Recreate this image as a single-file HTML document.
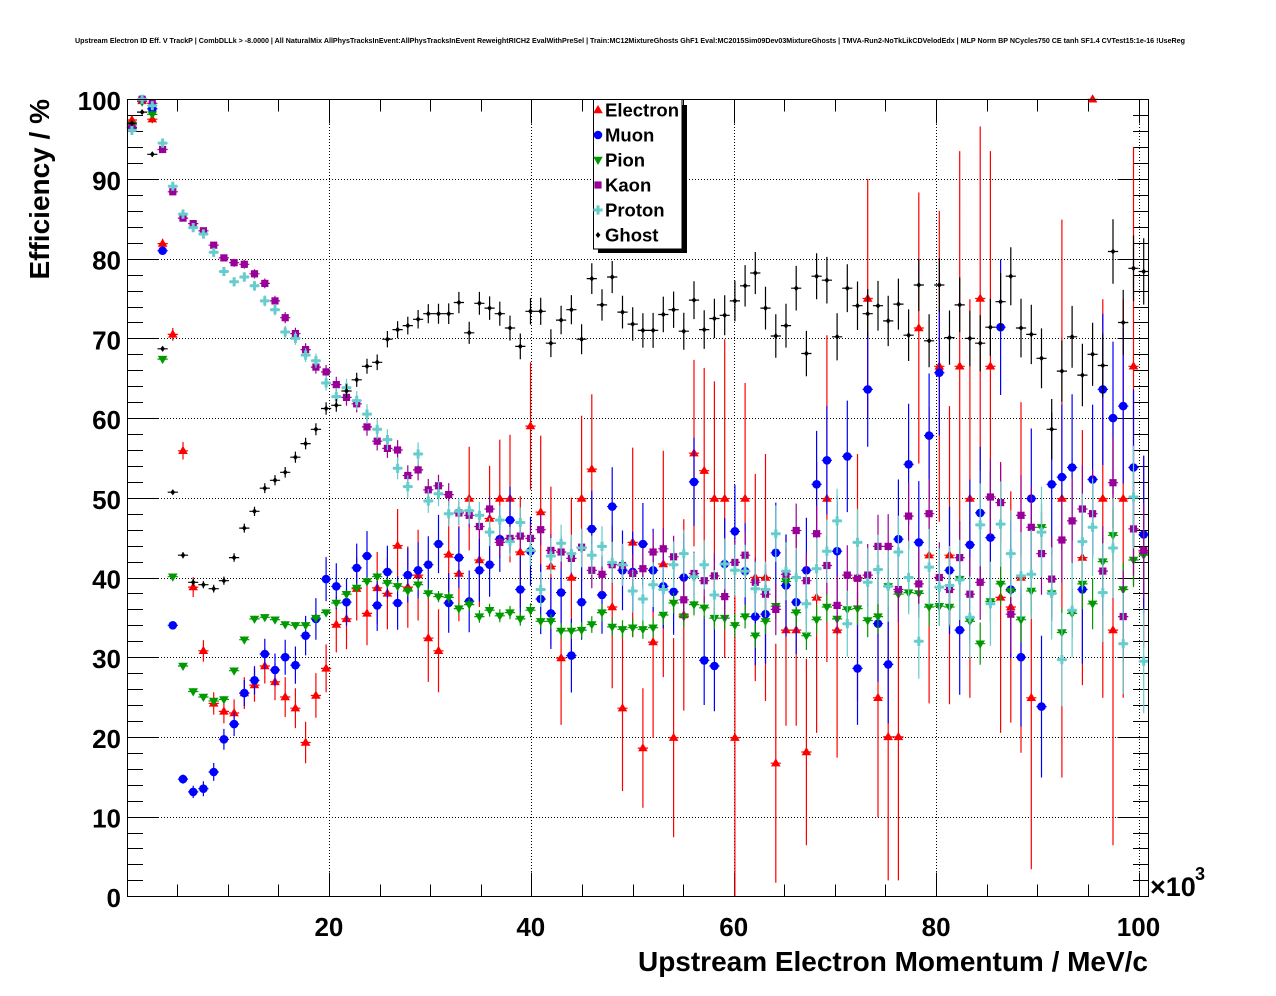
<!DOCTYPE html>
<html><head><meta charset="utf-8">
<style>
html,body{margin:0;padding:0;background:#fff;}
svg{display:block;}
text{font-family:"Liberation Sans",Arial,sans-serif;font-weight:bold;fill:#000;}
</style></head><body>
<svg id="s" width="1276" height="996" viewBox="0 0 1276 996" xmlns="http://www.w3.org/2000/svg">
<rect width="1276" height="996" fill="#fff"/>
<text x="75" y="43" font-size="7.5" textLength="1110" lengthAdjust="spacingAndGlyphs">Upstream Electron ID Eff. V TrackP | CombDLLk &gt; -8.0000 | All NaturalMix AllPhysTracksInEvent:AllPhysTracksInEvent ReweightRICH2 EvalWithPreSel | Train:MC12MixtureGhosts GhF1 Eval:MC2015Sim09Dev03MixtureGhosts | TMVA-Run2-NoTkLikCDVelodEdx | MLP Norm BP NCycles750 CE tanh SF1.4 CVTest15:1e-16 !UseReg</text>
<g id="grid" stroke="#000" stroke-width="1" stroke-dasharray="1,2" fill="none"></g>
<g id="ticks" stroke="#000" stroke-width="1" fill="none"></g>
<g id="data"></g>
<rect x="127.5" y="99.5" width="1021" height="797" fill="none" stroke="#000" stroke-width="1"/>
<g font-size="26" text-anchor="end">
<text x="121" y="907">0</text>
<text x="121" y="827.5">10</text>
<text x="121" y="748">20</text>
<text x="121" y="668">30</text>
<text x="121" y="588.5">40</text>
<text x="121" y="509">50</text>
<text x="121" y="429">60</text>
<text x="121" y="349.5">70</text>
<text x="121" y="269.5">80</text>
<text x="121" y="190">90</text>
<text x="121" y="110">100</text>
</g>
<g font-size="26" text-anchor="middle">
<text x="328.9" y="936">20</text>
<text x="530.8" y="936">40</text>
<text x="733.7" y="936">60</text>
<text x="936.1" y="936">80</text>
<text x="1138.5" y="936">100</text>
</g>
<text x="1150" y="896" font-size="27">×10</text>
<text x="1195" y="880" font-size="18">3</text>
<text x="1148" y="971" font-size="28" text-anchor="end" textLength="510" lengthAdjust="spacingAndGlyphs">Upstream Electron Momentum / MeV/c</text>
<text transform="translate(49,99) rotate(-90)" x="0" y="0" font-size="28" text-anchor="end">Efficiency / %</text>
<rect x="682" y="105" width="5" height="148" fill="#000"/>
<rect x="598" y="249" width="89" height="4" fill="#000"/>
<rect x="593.5" y="99.5" width="88.5" height="149.5" fill="#fff" stroke="#000" stroke-width="1"/>
<g id="legm"></g>
<g font-size="18.5">
<text x="605" y="116.5">Electron</text>
<text x="605" y="141.5">Muon</text>
<text x="605" y="166.5">Pion</text>
<text x="605" y="191.5">Kaon</text>
<text x="605" y="216.5">Proton</text>
<text x="605" y="241.5">Ghost</text>
</g>
</svg>
<script>
(function(){
function X(k){return 131.9+10.22*k;}
function Y(p){return 896.3-7.97*p;}
function XA(v){return 126.5+10.12*v;}
var gs='';
for(var i=1;i<=9;i++){var y=Math.round(Y(i*10))+0.5;gs+='<path d="M128,'+y+'H1148"/>';}
[20,40,60,80,100].forEach(function(v){var x=Math.round(XA(v))+0.5;gs+='<path d="M'+x+',100V896"/>';});
document.getElementById('grid').innerHTML=gs;
var ts='';
for(var p=0;p<=100;p+=2){var y=Math.round(Y(p))+0.5;var L=(p%10==0)?31:15.5;
 ts+='<path d="M127.5,'+y+'h'+L+'M1148.5,'+y+'h-'+L+'"/>';}
for(var v=5;v<=100;v+=5){var x=Math.round(XA(v))+0.5;var L=(v%20==0)?24:12;
 ts+='<path d="M'+x+',896.5v-'+L+'M'+x+',99.5v'+L+'"/>';}
document.getElementById('ticks').innerHTML=ts;

var red=[97.4,99.8,97.5,81.9,70.5,55.9,38.8,30.8,24.2,23.2,23.0,25.5,26.5,28.9,26.9,25.0,23.6,19.3,25.2,28.6,34.1,34.8,38.6,35.5,38.7,38.0,44.0,38.8,40.3,32.4,30.8,42.9,40.5,49.9,42.2,47.4,49.9,49.9,43.2,59.0,48.2,41.4,29.9,40.0,49.9,53.6,null,36.3,23.6,44.4,18.6,31.9,41.7,19.9,35.3,55.6,53.4,49.9,49.9,19.9,49.9,40.0,40.0,16.7,33.4,33.4,18.1,37.5,49.9,33.4,null,40.0,75.0,24.9,20.0,20.0,null,71.3,42.8,66.5,42.8,66.5,49.9,75.0,66.5,37.5,36.3,40.0,24.9,null,null,49.9,null,42.5,100,49.9,33.4,49.9,66.5,43.2];
var redE=[0.5,0.5,0.5,0.6,0.8,1.1,1.25,1.35,1.4,1.5,1.7,2,2.1,2.2,2.3,2.5,2.5,2.6,2.8,3,3.5,3.8,4,4,4.5,4.5,4.6,5.1,5.7,5.5,5.2,5,6,6.5,5.9,6.6,7.4,8,7,8,9.6,10,8.4,10,10.4,9.4,0,10.2,10.4,11.9,7.5,12,14.2,12.5,12,11.7,12.9,14.7,20,20,14.5,13,15.5,15,12,12,11.7,17,20.5,16,0,15.5,15,15,18,18,0,17,18.6,19.5,18.7,27,25,21.6,27,17,14.5,22,21.5,0,0,35,0,16,0.3,25,27,25,27.5,12];
var blue=[96.4,100,98.8,81.0,34.0,14.7,13.1,13.5,15.6,19.7,21.6,25.5,27.1,30.4,28.4,30.0,29.0,32.7,34.8,39.8,38.9,36.9,41.2,42.7,36.5,40.7,36.8,40.3,40.9,41.6,44.2,36.8,42.5,37.0,40.9,41.6,44.8,47.2,38.5,43.3,37.3,35.5,38.1,30.2,36.9,46.1,37.8,48.9,40.9,40.7,44.2,40.9,38.9,38.2,40.0,52.0,29.6,28.9,41.7,45.8,40.8,35.1,35.4,43.1,39.0,36.9,40.9,51.7,54.7,43.3,55.2,28.6,63.6,34.2,29.1,44.8,54.2,44.4,57.8,65.7,40.9,33.4,44.1,48.1,45.0,71.4,38.5,30.0,49.9,23.8,51.7,52.6,53.8,38.5,52.3,63.6,60.0,61.5,53.8,45.4];
var green=[96.8,99.7,98.1,67.4,40.1,28.9,25.7,25.0,24.5,24.7,28.3,32.2,34.8,35.0,34.7,34.1,34.0,34.0,34.9,35.6,36.8,37.9,38.7,39.5,40.1,39.3,38.9,38.3,39.1,38.0,37.6,37.5,36.1,36.6,35.1,35.9,35.2,35.6,34.8,35.9,34.5,34.5,33.3,33.3,33.4,34.1,35.6,33.8,33.5,33.7,33.5,33.7,35.3,36.8,35.1,36.6,36.2,34.9,34.9,34.0,35.1,32.7,34.5,36.4,39.5,35.6,32.7,34.7,36.3,34.8,36.0,36.1,34.6,35.1,38.9,37.9,38.1,38.0,36.3,36.4,36.3,39.8,34.5,31.7,37.0,39.2,38.3,34.7,38.3,46.3,38.0,33.1,35.5,39.2,36.7,42.0,45.3,38.5,42.2,42.8];
var kaon=[96.5,100,99.5,93.7,88.4,85.1,84.4,83.5,81.7,80.1,79.5,79.3,78.1,76.9,74.7,72.6,70.6,68.6,66.4,65.8,64.2,62.6,61.8,58.9,57.1,56.2,56.0,52.8,53.5,51.0,51.5,50.4,48.1,47.8,46.4,48.6,44.4,44.9,45.2,44.9,46.0,43.4,43.2,42.4,43.8,40.9,40.4,41.6,41.5,40.5,41.1,43.2,43.6,42.6,37.2,40.5,39.6,40.2,37.6,41.9,42.8,39.4,37.9,36.0,40.4,45.9,39.6,45.5,41.5,36.5,40.3,39.9,40.3,43.9,43.9,38.5,47.7,39.2,48.0,40.0,38.5,42.5,37.9,39.4,50.1,49.4,35.4,47.8,46.3,43.0,39.8,44.7,47.1,48.6,48.0,40.8,51.9,35.1,46.1,43.4];
var proton=[96.1,100,99.2,94.5,89.1,85.6,83.9,83.1,80.8,78.4,77.1,77.7,76.6,74.7,73.6,70.8,70.0,67.9,67.2,64.4,62.7,63.8,62.2,60.5,58.6,57.3,53.7,51.4,55.5,49.6,50.5,48.0,48.3,48.4,47.8,45.7,47.2,44.5,46.9,43.4,38.5,42.7,44.3,43.0,43.7,42.8,43.9,41.9,41.6,38.3,37.3,39.1,38.5,41.6,43.0,40.1,41.6,37.8,41.7,40.9,40.8,38.6,38.5,45.5,40.8,40.0,36.7,41.1,43.3,47.1,34.2,44.4,39.4,41.0,38.9,43.2,40.0,32.0,41.3,38.8,39.0,39.7,35.0,46.6,36.7,46.7,43.0,40.2,40.4,45.7,38.0,29.7,35.9,44.5,46.3,38.1,43.7,31.7,50.1,29.5];
var ghost=[97.0,98.4,93.1,68.7,50.7,42.8,39.4,39.1,38.6,39.6,42.5,46.2,48.3,51.2,52.2,53.2,55.1,56.8,58.6,61.2,61.6,63.4,64.8,66.5,67.0,69.9,71.1,71.6,72.4,73.1,73.1,73.1,74.5,70.7,74.4,73.8,73.1,71.3,69.0,73.4,73.4,69.4,72.3,73.6,69.9,77.5,74.2,77.7,73.3,71.8,71.0,71.0,73.0,73.6,70.9,74.8,71.1,72.5,72.9,74.7,76.6,78.2,73.8,70.3,71.6,76.3,68.1,77.8,77.3,70.2,76.3,74.1,73.1,74.1,72.2,74.3,70.4,76.7,69.7,76.7,70.1,74.2,70.0,69.4,71.4,74.6,77.8,71.3,70.5,67.5,58.6,65.9,70.2,65.4,68.0,66.6,80.9,72.0,78.8,78.4];

function eBlue(k){if(k<4)return 0.4;if(k<10)return 0.4+(k-4)*0.18;if(k<20)return 1.5+(k-10)*0.14;if(k<60)return 2.9+(k-20)*0.075;return 6+(k-60)*0.1;}
function eGreen(k){if(k<20)return 0.4;if(k<40)return 0.5+(k-20)*0.02;if(k<60)return 0.9+(k-40)*0.03;return 1.5+(k-60)*0.05;}
function eKaon(k){if(k<10)return 0.3;if(k<20)return 0.5+(k-10)*0.04;if(k<40)return 1+(k-20)*0.04;if(k<60)return 2+(k-40)*0.05;return 3+(k-60)*0.075;}
function eProton(k){return eKaon(k)*1.1;}
function eGhost(k){if(k<5)return 0.3;if(k<20)return 0.4+(k-5)*0.027;if(k<60)return 0.8+(k-20)*0.045;return 2.6+(k-60)*0.04;}

function mk(type,x,y,c){
 switch(type){
 case 'tu': return '<path d="M'+x+','+(y-5)+'L'+(x+4.8)+','+(y+3.2)+'L'+(x-4.8)+','+(y+3.2)+'Z" fill="'+c+'"/>';
 case 'td': return '<path d="M'+x+','+(y+5)+'L'+(x+4.8)+','+(y-3.2)+'L'+(x-4.8)+','+(y-3.2)+'Z" fill="'+c+'"/>';
 case 'ci': return '<circle cx="'+x+'" cy="'+y+'" r="4.3" fill="'+c+'"/>';
 case 'sq': return '<rect x="'+(x-3.6)+'" y="'+(y-3.6)+'" width="7.2" height="7.2" fill="'+c+'"/>';
 case 'cr': return '<path d="M'+(x-1.5)+','+(y-4.6)+'h3v3.1h3.1v3h-3.1v3.1h-3v-3.1h-3.1v-3h3.1Z" fill="'+c+'"/>';
 case 'di': return '<path d="M'+x+','+(y-3)+'L'+(x+2.4)+','+y+'L'+x+','+(y+3)+'L'+(x-2.4)+','+y+'Z" fill="'+c+'"/>';
 }
 return '';
}
function series(vals,ef,c,type){
 var lines='',marks='';
 for(var k=0;k<vals.length;k++){
  var v=vals[k]; if(v==null) continue;
  var x=X(k), y=Y(v), e=ef(k);
  var y1=Y(Math.min(100,v+e)), y2=Y(Math.max(0,v-e));
  lines+='M'+(x-5.1).toFixed(1)+','+y.toFixed(1)+'H'+(x+5.1).toFixed(1);
  if(e>0) lines+='M'+x.toFixed(1)+','+y1.toFixed(1)+'V'+y2.toFixed(1);
  marks+=mk(type,+x.toFixed(1),+y.toFixed(1),c);
 }
 return '<path d="'+lines+'" stroke="'+c+'" stroke-width="1.2" fill="none"/>'+marks;
}
var out='';
out+=series(red,function(k){return redE[k];},'#ff0000','tu');
out+=series(blue,eBlue,'#0000ff','ci');
out+=series(green,eGreen,'#009900','td');
out+=series(kaon,eKaon,'#990099','sq');
out+=series(proton,eProton,'#66cccc','cr');
out+=series(ghost,eGhost,'#000000','di');
document.getElementById('data').innerHTML=out;
var lm='';
lm+=mk('tu',598,110,'#ff0000');
lm+=mk('ci',598,135,'#0000ff');
lm+=mk('td',598,160,'#009900');
lm+=mk('sq',598,185,'#990099');
lm+=mk('cr',598,210,'#66cccc');
lm+=mk('di',598,235,'#000000');
document.getElementById('legm').innerHTML=lm;
})();
</script>
</body></html>
